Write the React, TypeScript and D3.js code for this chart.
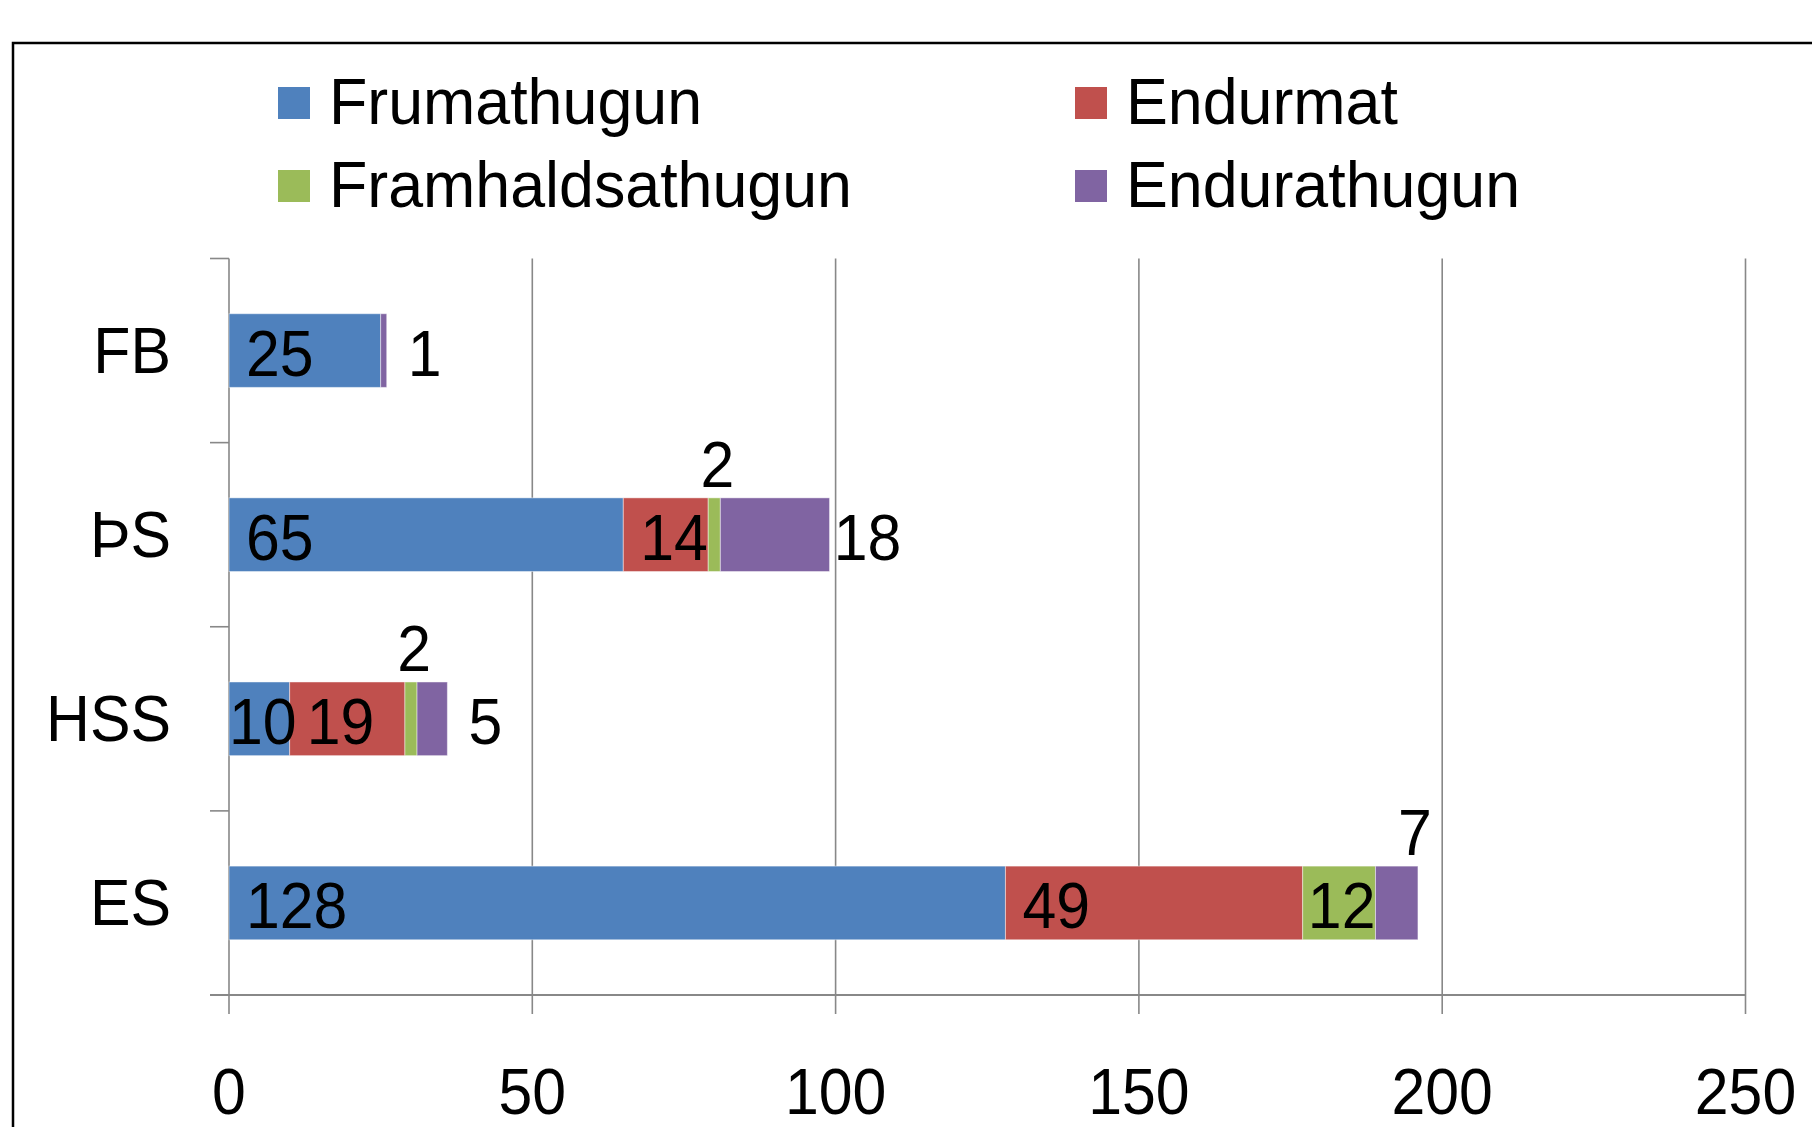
import React from "react";
import * as d3 from "d3";

const categories = ["FB", "ÞS", "HSS", "ES"];
const seriesNames = ["Frumathugun", "Endurmat", "Framhaldsathugun", "Endurathugun"];
const frumathugun = [25, 65, 10, 128];
const endurmat = [0, 14, 19, 49];
const framhaldsathugun = [0, 2, 2, 12];
const endurathugun = [1, 18, 5, 7];
const xTicks = [0, 50, 100, 150, 200, 250];
const seriesColors = ["#4F81BD", "#C0504D", "#9BBB59", "#8064A2"];
// label placement per series (rows) and category (columns)
const labelModes = [
  ["base", "base", "base", "base"],
  ["none", "base", "base", "base"],
  ["none", "above", "above", "base"],
  ["right", "right", "right", "above"],
];

const W = 1812;
const H = 1127;
const FONT = "'Liberation Sans', Arial, Helvetica, sans-serif";
const FS = 64;
const SX = 0.95;

function T(props: { x: number; y: number; anchor?: string; size?: number; sx?: number; children: any }) {
  const { x, y, anchor = "start", size = FS, sx = SX, children } = props;
  return (
    <text
      transform={`translate(${x},${y}) scale(${sx},1)`}
      fontSize={size}
      textAnchor={anchor as any}
      fill="#000"
    >
      {children}
    </text>
  );
}

export default function App() {
  const seriesValues = [frumathugun, endurmat, framhaldsathugun, endurathugun];
  const rows = categories.map((c, i) => {
    const r: any = { cat: c };
    seriesNames.forEach((s, k) => (r[s] = seriesValues[k][i]));
    return r;
  });
  const stack = d3.stack<any>().keys(seriesNames)(rows);

  const x = d3.scaleLinear().domain([0, 250]).range([229, 1745.5]);
  const y = d3
    .scaleBand<string>()
    .domain(categories)
    .range([258.5, 995])
    .paddingInner(0.6)
    .paddingOuter(0.3);
  const step = y.step();
  const top = 258.5;
  const bottom = 995;
  const gridColor = "#888888";
  const charW = 0.556 * FS * SX;

  const labels: any[] = [];
  stack.forEach((layer, k) => {
    layer.forEach((d, i) => {
      const v = seriesValues[k][i];
      const mode = labelModes[k][i];
      if (mode === "none" || v === 0) return;
      const x0 = x(d[0]);
      const x1 = x(d[1]);
      const yb = y(categories[i])!;
      const bw = y.bandwidth();
      const txt = String(v);
      const tw = txt.length * charW;
      if (mode === "base") {
        const pad = Math.max(0, Math.min(17, x1 - x0 - tw));
        labels.push({ x: x0 + pad, y: yb + bw / 2 + 25, anchor: "start", t: txt });
      } else if (mode === "right") {
        labels.push({ x: x1 + 38, y: yb + bw / 2 + 25, anchor: "middle", t: txt });
      } else if (mode === "above") {
        labels.push({ x: x1 - 3, y: yb - 11, anchor: "middle", t: txt });
      }
    });
  });

  return (
    <svg
      width={W}
      height={H}
      style={{ position: "absolute", left: 0, top: 0, background: "#fff" }}
      fontFamily={FONT}
    >
      <rect x={0} y={0} width={W} height={H} fill="#fff" />
      {/* outer frame */}
      <rect x={13} y={43} width={W + 50} height={H + 50} fill="none" stroke="#000" strokeWidth={2.5} />

      {/* legend */}
      {seriesNames.map((s, k) => {
        const col = k % 2 === 0 ? 0 : 1;
        const row = k < 2 ? 0 : 1;
        const sx = col === 0 ? 278 : 1075;
        const sy = row === 0 ? 87 : 170;
        return (
          <g key={s}>
            <rect x={sx} y={sy} width={32} height={32} fill={seriesColors[k]} />
            <T x={sx + 51} y={sy + 37} size={64} sx={0.98}>
              {s}
            </T>
          </g>
        );
      })}

      {/* gridlines & x ticks */}
      {xTicks.map((t) => (
        <line
          key={"g" + t}
          x1={x(t)}
          x2={x(t)}
          y1={top}
          y2={bottom + 19}
          stroke={gridColor}
          strokeWidth={1.6}
        />
      ))}
      {/* y axis category ticks */}
      {d3.range(categories.length + 1).map((i) => (
        <line
          key={"yt" + i}
          x1={x(0) - 19}
          x2={x(0)}
          y1={top + i * step}
          y2={top + i * step}
          stroke={gridColor}
          strokeWidth={1.6}
        />
      ))}
      {/* x axis line */}
      <line x1={x(0) - 19} x2={x(250)} y1={bottom} y2={bottom} stroke={gridColor} strokeWidth={2} />

      {/* bars */}
      {stack.map((layer, k) =>
        layer.map((d, i) =>
          d[1] - d[0] > 0 ? (
            <rect
              key={k + "-" + i}
              x={x(d[0])}
              y={y(categories[i])}
              width={x(d[1]) - x(d[0])}
              height={y.bandwidth()}
              fill={seriesColors[k]}
              stroke="rgba(255,255,255,0.45)"
              strokeWidth={1}
            />
          ) : null
        )
      )}

      {/* category labels */}
      {categories.map((c) => (
        <T key={"c" + c} x={171} y={y(c)! + y.bandwidth() / 2 + 22} anchor="end">
          {c}
        </T>
      ))}

      {/* x tick labels */}
      {xTicks.map((t) => (
        <T key={"xl" + t} x={x(t)} y={1114} anchor="middle">
          {t}
        </T>
      ))}

      {/* data labels */}
      {labels.map((l, i) => (
        <T key={"dl" + i} x={l.x} y={l.y} anchor={l.anchor}>
          {l.t}
        </T>
      ))}
    </svg>
  );
}
